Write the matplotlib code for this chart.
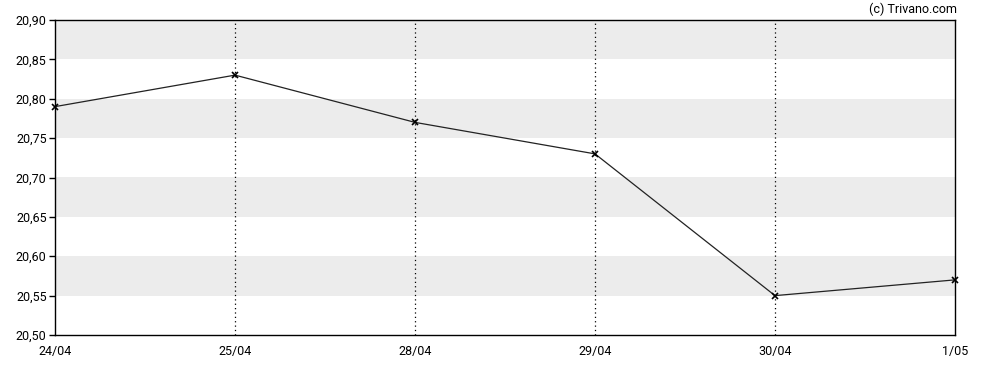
import matplotlib.pyplot as plt
import numpy as np

dates = ['24/04', '25/04', '28/04', '29/04', '30/04', '1/05']
prices = [20.79, 20.83, 20.77, 20.73, 20.55, 20.57]
y_ticks = [20.50, 20.55, 20.60, 20.65, 20.70, 20.75, 20.80, 20.85, 20.90]
bands = [(20.55, 20.60), (20.65, 20.70), (20.75, 20.80), (20.85, 20.90)]

plt.rcParams['font.family'] = ['Roboto', 'DejaVu Sans']
plt.rcParams['font.size'] = 9

fig = plt.figure(figsize=(9.88, 3.70), dpi=100)
ax = fig.add_axes([55 / 988, 1 - 335 / 370, 900 / 988, 315 / 370])

x = np.arange(len(dates))
for lo, hi in bands:
    ax.axhspan(lo, hi, color='#ececec', lw=0, zorder=0)
for xi in x[1:-1]:
    ax.axvline(xi, color='black', lw=0.9, ls=(0, (1, 2.5)), zorder=1)

ax.plot(x, prices, color='#222222', lw=0.9, marker='x', ms=4, mew=1.2, mec='black',
        zorder=3, clip_on=False)

ax.set_xlim(x[0], x[-1])
ax.set_ylim(20.50, 20.90)
ax.set_xticks(x)
ax.set_xticklabels(dates)
ax.set_yticks(y_ticks)
ax.set_yticklabels([f'{v:.2f}'.replace('.', ',') for v in y_ticks])
ax.tick_params(axis='x', length=0, pad=7)
ax.tick_params(axis='y', length=4, width=1, pad=2)
for s in ax.spines.values():
    s.set_linewidth(1)

fig.text(957 / 988, 1 - 9 / 370, '(c) Trivano.com', ha='right', va='center', fontsize=9)

fig.savefig('out.png', dpi=100)
